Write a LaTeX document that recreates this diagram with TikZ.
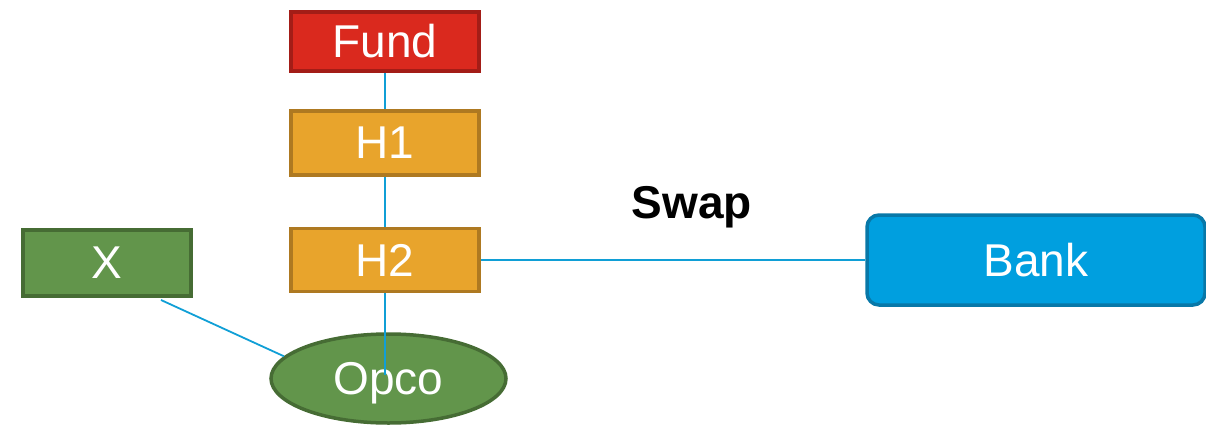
\documentclass[tikz,border=0pt]{standalone}
\usepackage{fontspec}
\setmainfont{Liberation Sans}
\usetikzlibrary{shapes.geometric}

\definecolor{fundfill}{HTML}{DA291E}
\definecolor{funddraw}{HTML}{A31D17}
\definecolor{holdfill}{HTML}{E8A42C}
\definecolor{holddraw}{HTML}{AE7921}
\definecolor{grnfill}{HTML}{62954B}
\definecolor{grndraw}{HTML}{466C34}
\definecolor{bankfill}{HTML}{009FDF}
\definecolor{bankdraw}{HTML}{0878A8}
\definecolor{link}{HTML}{109FD6}

\tikzset{
  entity/.style={draw, line width=3.5pt, inner sep=0pt, text=white,
    font=\fontsize{46}{52}\selectfont},
  fundbox/.style={entity, rectangle, fill=fundfill, draw=funddraw},
  holdbox/.style={entity, rectangle, fill=holdfill, draw=holddraw},
  greenbox/.style={entity, rectangle, fill=grnfill, draw=grndraw},
  greenoval/.style={entity, ellipse, fill=grnfill, draw=grndraw},
  bankbox/.style={entity, rectangle, rounded corners=12pt, fill=bankfill, draw=bankdraw},
  linkline/.style={draw=link, line width=1.8pt}
}

\begin{document}
\begin{tikzpicture}[x=1pt, y=-1pt]
\useasboundingbox (0,0) rectangle (1206,425);

% entities
\node[fundbox, minimum width=188pt, minimum height=59pt] (fund) at (385,41.5) {Fund};
\node[holdbox, minimum width=188pt, minimum height=64pt] (h1) at (385,143) {H1};
\node[holdbox, minimum width=188pt, minimum height=63pt] (h2) at (385,260) {H2};
\node[greenbox, minimum width=168pt, minimum height=66pt] (x) at (107,263) {X};
\node[greenoval, minimum width=235pt, minimum height=89pt, text depth=0pt] (opco) at (388.5,378.5) {Opco};
\node[bankbox, minimum width=338pt, minimum height=90pt] (bank) at (1036,260) {Bank};

% swap label
\node[font=\bfseries\fontsize{46}{52}\selectfont, inner sep=0pt] (swap) at (692,207) {Swap};

% connectors
\coordinate (xfoot) at (161,300);
\coordinate (opcomid) at (385,375);
\draw[linkline] (fund.south) -- (h1.north);
\draw[linkline] (h1.south) -- (h2.north);
\draw[linkline] (h2.south) -- (opcomid);
\draw[linkline] (h2.east) -- (bank.west);
\draw[linkline] (xfoot) -- (opco.168);
\end{tikzpicture}
\end{document}
